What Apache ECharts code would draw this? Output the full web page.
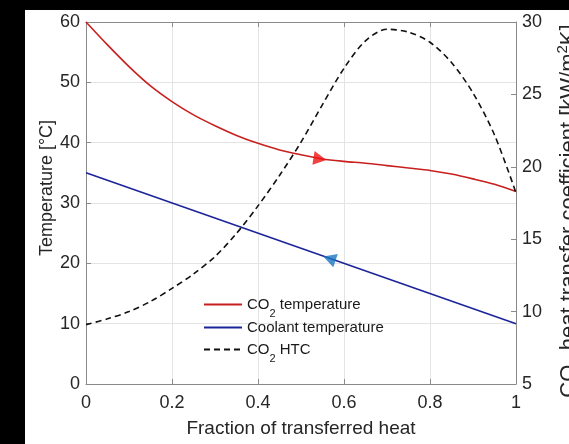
<!DOCTYPE html>
<html>
<head>
<meta charset="utf-8">
<script src="https://cdn.jsdelivr.net/npm/echarts@6/dist/echarts.min.js"></script>
<style>
html,body{margin:0;padding:0;background:#000;width:569px;height:444px;overflow:hidden;}
#chart{position:absolute;left:25px;top:10px;width:544px;height:434px;background:#fff;}
</style>
</head>
<body>
<div id="chart"></div>
<script>
// Fraction of transferred heat (x positions)
const fraction = [0,0.05,0.1,0.15,0.2,0.25,0.3,0.35,0.4,0.45,0.5,0.55,0.6,0.65,0.7,0.75,0.8,0.85,0.9,0.95,1.0];
// CO2 temperature [°C]
const co2Temp = [60,56.2,52.6,49.4,46.8,44.6,42.8,41.2,39.9,38.8,38.0,37.3,36.9,36.6,36.2,35.8,35.4,34.8,34.0,33.1,31.9];
// Coolant temperature [°C]
const coolantX = [0, 1];
const coolantTemp = [35, 10];
// CO2 heat transfer coefficient [kW/m2K]
const co2HTC = [9.1,9.5,10.0,10.7,11.6,12.6,13.8,15.4,17.3,19.4,21.7,24.3,26.8,28.7,29.5,29.3,28.6,27.2,25.1,22.2,18.2];
// Flow direction arrows (x, temperature)
const arrowX = [0.544, 0.566];
const arrowT = [37.3, 20.8];
// Axis settings
const xTicks = {min: 0, max: 1, interval: 0.2};
const tempTicks = {min: 0, max: 60, interval: 10};
const htcTicks = {min: 5, max: 30, interval: 5};
const seriesNames = ['CO2 temperature', 'Coolant temperature', 'CO2 HTC'];

const pair = (xs, ys) => xs.map((x, i) => [x, ys[i]]);

const axisGray = '#8a8a8a';
const labelColor = '#262626';
const fontFam = '"Liberation Sans", Arial, sans-serif';

const legendRich = {
  a: {fontSize: 15, lineHeight: 18, color: '#1a1a1a', fontFamily: fontFam},
  sub: {fontSize: 11, lineHeight: 12, padding: [0, 0, -6, 0], verticalAlign: 'bottom', color: '#1a1a1a', fontFamily: fontFam}
};
function legendFmt(name) {
  if (name.indexOf('CO2') === 0) return '{a|CO}{sub|2}{a|' + name.slice(3) + '}';
  return '{a|' + name + '}';
}
function makeLegend(name, top) {
  return {
    data: [name], orient: 'vertical', left: 178, top: top,
    itemWidth: 38, itemHeight: 14, padding: 0,
    itemStyle: {opacity: 0},
    textStyle: {color: '#1a1a1a', fontSize: 15, fontFamily: fontFam, rich: legendRich},
    formatter: legendFmt,
    selectedMode: false
  };
}

const chart = echarts.init(document.getElementById('chart'), null, {renderer: 'canvas'});
const option = {
  backgroundColor: '#fff',
  animation: false,
  textStyle: {fontFamily: fontFam},
  grid: {left: 61, right: 53, top: 12, bottom: 60, containLabel: false, outerBoundsMode: 'none'},
  legend: [makeLegend(seriesNames[0], 287), makeLegend(seriesNames[1], 310), makeLegend(seriesNames[2], 332)],
  xAxis: [{
    type: 'value', min: xTicks.min, max: xTicks.max, interval: xTicks.interval,
    position: 'bottom',
    name: 'Fraction of transferred heat', nameLocation: 'middle', nameGap: 35,
    nameTextStyle: {fontSize: 19, color: labelColor, fontFamily: fontFam},
    axisLine: {show: true, onZero: false, lineStyle: {color: axisGray, width: 1}},
    axisTick: {show: true, inside: true, length: 5, lineStyle: {color: axisGray}},
    axisLabel: {fontSize: 18, color: labelColor, margin: 10, fontFamily: fontFam},
    splitLine: {show: true, lineStyle: {color: '#e4e4e4', width: 1}}
  }, {
    type: 'value', min: xTicks.min, max: xTicks.max, interval: xTicks.interval,
    position: 'top',
    axisLine: {show: true, onZero: false, lineStyle: {color: axisGray, width: 1}},
    axisTick: {show: true, inside: true, length: 5, lineStyle: {color: axisGray}},
    axisLabel: {show: false},
    splitLine: {show: false}
  }],
  yAxis: [{
    type: 'value', min: tempTicks.min, max: tempTicks.max, interval: tempTicks.interval,
    position: 'left',
    name: 'Temperature [°C]', nameLocation: 'middle', nameGap: 30, nameRotate: 90,
    nameMoveOverlap: false,
    nameTextStyle: {fontSize: 18, color: labelColor, fontFamily: fontFam, padding: [0, 0, 0, 30]},
    axisLine: {show: true, onZero: false, lineStyle: {color: axisGray, width: 1}},
    axisTick: {show: true, inside: true, length: 5, lineStyle: {color: axisGray}},
    axisLabel: {fontSize: 18, color: labelColor, margin: 6, fontFamily: fontFam},
    splitLine: {show: true, lineStyle: {color: '#e4e4e4', width: 1}}
  }, {
    type: 'value', min: htcTicks.min, max: htcTicks.max, interval: htcTicks.interval,
    position: 'right',
    name: '{a|CO}{sub|2}{a| heat transfer coefficient [kW/m}{sup|2}{a|K]}',
    nameLocation: 'middle', nameGap: 39, nameRotate: 90,
    nameTextStyle: {
      fontSize: 22, color: labelColor, fontFamily: fontFam, padding: [0, 16, 0, 0],
      rich: {
        a: {fontSize: 22, lineHeight: 28, color: labelColor, fontFamily: fontFam},
        sub: {fontSize: 15, lineHeight: 12, verticalAlign: 'bottom', color: labelColor, fontFamily: fontFam},
        sup: {fontSize: 15, lineHeight: 12, verticalAlign: 'top', color: labelColor, fontFamily: fontFam}
      }
    },
    axisLine: {show: true, onZero: false, lineStyle: {color: axisGray, width: 1}},
    axisTick: {show: true, inside: true, length: 5, lineStyle: {color: axisGray}},
    axisLabel: {fontSize: 18, color: labelColor, margin: 6, fontFamily: fontFam},
    splitLine: {show: false}
  }],
  series: [{
    name: seriesNames[0], type: 'line', xAxisIndex: 0, yAxisIndex: 0,
    data: pair(fraction, co2Temp), smooth: 0.3, symbol: 'none',
    itemStyle: {color: '#c8201f'},
    lineStyle: {color: '#c8201f', width: 1.6}
  }, {
    name: seriesNames[1], type: 'line', xAxisIndex: 0, yAxisIndex: 0,
    data: pair(coolantX, coolantTemp), symbol: 'none',
    itemStyle: {color: '#1c2499'},
    lineStyle: {color: '#1c2499', width: 1.6}
  }, {
    name: seriesNames[2], type: 'line', xAxisIndex: 0, yAxisIndex: 1,
    data: pair(fraction, co2HTC), smooth: 0.3, symbol: 'none',
    itemStyle: {color: '#111'},
    lineStyle: {color: '#111', width: 1.6, type: [6, 4]}
  }, {
    name: 'arrowCO2', type: 'scatter', xAxisIndex: 0, yAxisIndex: 0,
    data: [[arrowX[0], arrowT[0]]], symbol: 'triangle', symbolSize: [14, 13], symbolRotate: -99,
    itemStyle: {color: '#ee1111'}, z: 5
  }, {
    name: 'arrowCoolant', type: 'scatter', xAxisIndex: 0, yAxisIndex: 0,
    data: [[arrowX[1], arrowT[1]]], symbol: 'triangle', symbolSize: [14, 13], symbolRotate: 71,
    itemStyle: {color: '#1a75c0'}, z: 5
  }]
};
chart.setOption(option);
</script>
</body>
</html>
